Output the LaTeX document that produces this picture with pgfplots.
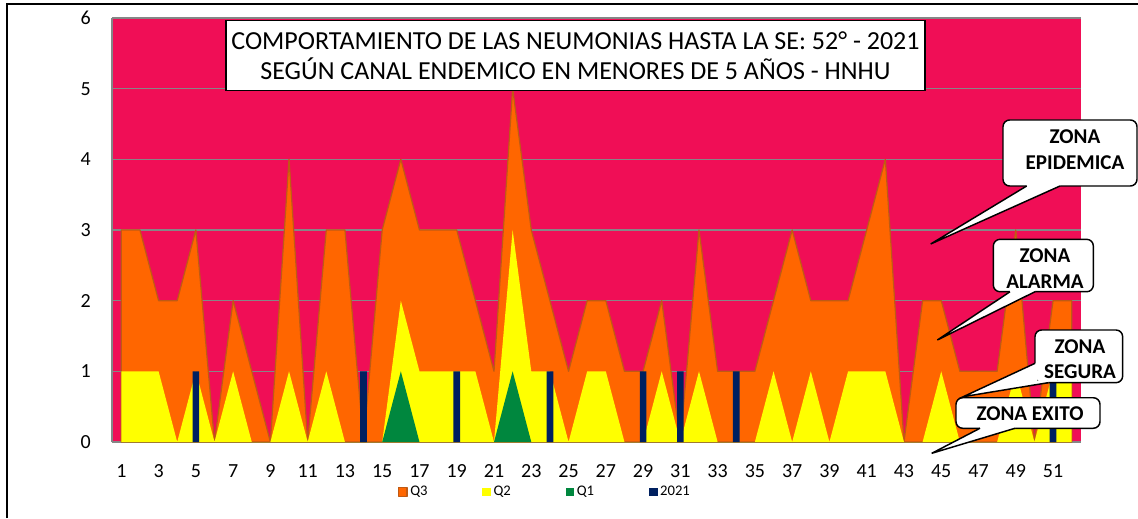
\documentclass[border=0pt]{standalone}
\usepackage{pgfplots}
\pgfplotsset{compat=1.18}
\usepackage{fontspec}
\setmainfont{Carlito}
\definecolor{pinkc}{RGB}{240,14,86}
\definecolor{orangec}{RGB}{255,102,0}
\definecolor{brownc}{RGB}{191,90,20}
\definecolor{yellowc}{RGB}{255,255,0}
\definecolor{greenc}{RGB}{0,135,62}
\definecolor{navyc}{RGB}{0,32,96}
\definecolor{gridc}{RGB}{134,134,134}
\begin{document}
\begin{tikzpicture}[x=1pt,y=1pt]
\path[use as bounding box] (0,0) rectangle (853.5,388.5);
\draw[black, line width=1.1pt] (5.25,0) -- (5.25,385.5) -- (853.5,385.5);
\begin{axis}[
 at={(84pt,57pt)}, anchor=south west, scale only axis,
 width=726.75pt, height=318pt,
 xmin=0.5, xmax=52.5, ymin=0, ymax=6,
 xtick={1,3,...,51}, ytick={0,1,2,3,4,5,6},
 axis background/.style={fill=pinkc},
 ymajorgrids, major grid style={draw=gridc, line width=1.1pt},
 axis x line*=bottom, axis y line*=left,
 x axis line style={draw=gridc, line width=1.5pt},
 y axis line style={draw=gridc, line width=1.1pt},
 major tick length=0pt,
 tick label style={font=\fontsize{15}{17}\selectfont, inner sep=0pt},
 /pgf/number format/assume math mode=true,
 xticklabel style={anchor=north, yshift=-16.5pt},
 yticklabel style={anchor=east, xshift=-15.75pt},
 legend columns=4,
 legend style={at={(0.447,-0.118)}, anchor=center, draw=none, fill=none,
   font=\fontsize{11}{13}\selectfont,
   /tikz/every even column/.append style={column sep=39pt}},
]
% Q3
\addplot[fill=orangec, draw=brownc, line width=0.9pt, line join=round,
  legend image code/.code={\fill[orangec,draw=brownc] (0pt,-3.25pt) rectangle (6.5pt,3.25pt);}]
coordinates {(1,3)(2,3)(3,2)(4,2)(5,3)(6,0)(7,2)(8,1)(9,0)(10,4)(11,0)(12,3)(13,3)(14,0)(15,3)(16,4)(17,3)(18,3)(19,3)(20,2)(21,1)(22,5)(23,3)(24,2)(25,1)(26,2)(27,2)(28,1)(29,1)(30,2)(31,0)(32,3)(33,1)(34,1)(35,1)(36,2)(37,3)(38,2)(39,2)(40,2)(41,3)(42,4)(43,0)(44,2)(45,2)(46,1)(47,1)(48,1)(49,3)(50,0)(51,2)(52,2)} \closedcycle;
\addlegendentry{Q3}
% Q2
\addplot[fill=yellowc, draw=none,
  legend image code/.code={\fill[yellowc] (0pt,-3.25pt) rectangle (6.5pt,3.25pt);}]
coordinates {(1,1)(2,1)(3,1)(4,0)(5,1)(6,0)(7,1)(8,0)(9,0)(10,1)(11,0)(12,1)(13,0)(14,0)(15,0)(16,2)(17,1)(18,1)(19,1)(20,1)(21,0)(22,3)(23,1)(24,1)(25,0)(26,1)(27,1)(28,0)(29,0)(30,1)(31,0)(32,1)(33,0)(34,0)(35,0)(36,1)(37,0)(38,1)(39,0)(40,1)(41,1)(42,1)(43,0)(44,0)(45,1)(46,0)(47,0)(48,0)(49,1)(50,0)(51,1)(52,1)} \closedcycle;
\addlegendentry{Q2}
% Q1
\addplot[fill=greenc, draw=none,
  legend image code/.code={\fill[greenc] (0pt,-3.25pt) rectangle (6.5pt,3.25pt);}]
coordinates {(1,0)(2,0)(3,0)(4,0)(5,0)(6,0)(7,0)(8,0)(9,0)(10,0)(11,0)(12,0)(13,0)(14,0)(15,0)(16,1)(17,0)(18,0)(19,0)(20,0)(21,0)(22,1)(23,0)(24,0)(25,0)(26,0)(27,0)(28,0)(29,0)(30,0)(31,0)(32,0)(33,0)(34,0)(35,0)(36,0)(37,0)(38,0)(39,0)(40,0)(41,0)(42,0)(43,0)(44,0)(45,0)(46,0)(47,0)(48,0)(49,0)(50,0)(51,0)(52,0)} \closedcycle;
\addlegendentry{Q1}
% 2021
\addplot[ybar, bar width=5pt, fill=navyc, draw=none,
  legend image code/.code={\fill[navyc] (0pt,-3.25pt) rectangle (6.5pt,3.25pt);}]
coordinates {(5,1)(14,1)(19,1)(24,1)(29,1)(31,1)(34,1)(51,1)};
\addlegendentry{2021}
\end{axis}
% title
\draw[fill=white, line width=1.2pt] (169.5,320.5) rectangle (693.75,373);
\node[anchor=base, inner sep=0pt, font=\fontsize{19.5}{22}\selectfont] at (431.6,351) {COMPORTAMIENTO DE LAS NEUMONIAS HASTA LA SE: 52° - 2021};
\node[anchor=base, inner sep=0pt, font=\fontsize{19.5}{22}\selectfont] at (431.6,328.5) {SEGÚN CANAL ENDEMICO EN MENORES DE 5 AÑOS - HNHU};
% callouts
\tikzset{cbox/.style={fill=white, draw=black, line width=1.1pt, rounded corners=5pt},
 cline/.style={draw=black, line width=1.1pt},
 ctext/.style={anchor=base, inner sep=0pt, font=\bfseries\fontsize{15.8}{18}\selectfont}}
% EPIDEMICA
\path[cbox] (752.25,249) rectangle (852.75,298.5);
\fill[white] (770,250.5) -- (770,249) -- (698,205.5) -- (795,249) -- (795,250.5) -- cycle;
\draw[cline] (770,249) -- (698,205.5) -- (795,249);
\node[ctext] at (806.25,280.5) {ZONA};
\node[ctext] at (806.25,261) {EPIDEMICA};
% ALARMA
\path[cbox] (745,169.7) rectangle (820,209);
\fill[white] (757.5,171.2) -- (757.5,169.7) -- (703,133.5) -- (776.25,169.7) -- (776.25,171.2) -- cycle;
\draw[cline] (757.5,169.7) -- (703,133.5) -- (776.25,169.7);
\node[ctext] at (783.75,191.8) {ZONA};
\node[ctext] at (783.75,172.3) {ALARMA};
% SEGURA
\path[cbox] (776.25,101.5) rectangle (842,141);
\fill[white] (777.8,116) -- (776.25,116) -- (722.5,91) -- (786.25,101.5) -- (786.25,103) -- (777.8,103) -- cycle;
\draw[cline] (776.25,116) -- (722.5,91) -- (786.25,101.5);
\node[ctext] at (810,123.5) {ZONA};
\node[ctext] at (810,104.8) {SEGURA};
% EXITO
\path[cbox] (717,67.3) rectangle (825,90.2);
\fill[white] (735,68.8) -- (735,67.3) -- (698.75,48.5) -- (761.25,67.3) -- (761.25,68.8) -- cycle;
\draw[cline] (735,67.3) -- (698.75,48.5) -- (761.25,67.3);
\node[ctext] at (772.5,73.5) {ZONA EXITO};
\end{tikzpicture}
\end{document}
